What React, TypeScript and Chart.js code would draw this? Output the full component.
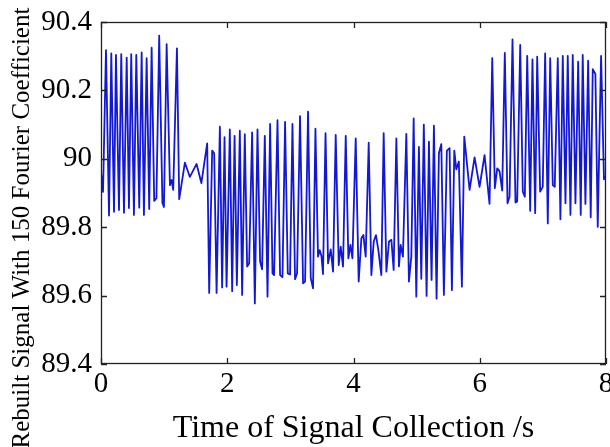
import React, { useEffect, useRef } from "react";
import { Chart, registerables } from "chart.js";

Chart.register(...registerables);

const timeS = [
  0, 0.032, 0.079, 0.127, 0.163, 0.206, 0.237, 0.285, 0.321, 0.364,
  0.407, 0.443, 0.479, 0.522, 0.559, 0.606, 0.644, 0.68, 0.723, 0.764,
  0.802, 0.843, 0.878, 0.922, 0.973, 0.997, 1.04, 1.092, 1.119, 1.144,
  1.203, 1.239, 1.329, 1.408, 1.514, 1.59, 1.682, 1.714, 1.761, 1.793,
  1.831, 1.883, 1.919, 1.957, 1.989, 2.041, 2.078, 2.116, 2.152, 2.199,
  2.236, 2.278, 2.315, 2.347, 2.394, 2.437, 2.479, 2.521, 2.552, 2.595,
  2.638, 2.679, 2.717, 2.742, 2.796, 2.837, 2.875, 2.916, 2.959, 2.995,
  3.033, 3.074, 3.106, 3.153, 3.201, 3.233, 3.28, 3.323, 3.359, 3.397,
  3.438, 3.465, 3.492, 3.517, 3.557, 3.597, 3.639, 3.676, 3.718, 3.766,
  3.797, 3.834, 3.877, 3.919, 3.951, 3.983, 4.035, 4.082, 4.125, 4.157,
  4.193, 4.241, 4.283, 4.32, 4.356, 4.394, 4.441, 4.478, 4.521, 4.562,
  4.6, 4.636, 4.679, 4.72, 4.747, 4.783, 4.837, 4.878, 4.916, 4.953,
  4.995, 5.036, 5.074, 5.114, 5.158, 5.195, 5.237, 5.274, 5.316, 5.353,
  5.391, 5.432, 5.479, 5.522, 5.559, 5.597, 5.628, 5.669, 5.717, 5.755,
  5.839, 5.918, 5.997, 6.076, 6.155, 6.198, 6.239, 6.277, 6.313, 6.356,
  6.397, 6.44, 6.472, 6.519, 6.566, 6.593, 6.641, 6.682, 6.714, 6.752,
  6.799, 6.835, 6.878, 6.91, 6.957, 6.998, 7.036, 7.078, 7.116, 7.157,
  7.188, 7.236, 7.278, 7.315, 7.358, 7.394, 7.437, 7.473, 7.516, 7.559,
  7.6, 7.631, 7.674, 7.717, 7.758, 7.79, 7.832, 7.869, 7.922, 7.968,
  8.0,
];

const rebuiltSignal = [
  89.961, 89.903, 90.318, 89.834, 90.308, 89.845, 90.304, 89.85, 90.306, 89.842,
  90.296, 89.856, 90.306, 89.836, 90.304, 89.857, 90.311, 89.836, 90.294, 89.853,
  90.325, 89.877, 89.885, 90.36, 89.871, 89.859, 90.335, 89.923, 89.938, 89.909,
  90.323, 89.882, 89.989, 89.947, 89.985, 89.929, 90.045, 89.608, 90.024, 90.016,
  89.608, 90.094, 89.624, 90.063, 89.626, 90.086, 89.613, 90.067, 89.631, 90.082,
  89.602, 90.072, 89.685, 89.694, 90.077, 89.577, 90.086, 89.699, 89.677, 90.067,
  89.597, 90.102, 89.665, 89.66, 90.113, 89.66, 89.654, 90.108, 89.665, 89.662,
  90.102, 89.648, 89.665, 90.125, 89.636, 89.641, 90.138, 89.651, 89.621, 90.088,
  89.714, 89.733, 89.716, 89.663, 90.075, 89.694, 89.735, 89.67, 90.07, 89.689,
  89.743, 89.685, 90.067, 89.709, 89.748, 89.709, 90.06, 89.641, 89.768, 89.777,
  89.714, 90.047, 89.66, 89.758, 89.777, 89.733, 89.66, 90.075, 89.67, 89.758,
  89.763, 89.675, 90.06, 89.685, 89.748, 89.714, 90.073, 89.641, 89.714, 90.118,
  89.597, 90.035, 89.649, 90.1, 89.599, 90.05, 89.646, 90.097, 89.591, 90.016,
  90.043, 89.602, 90.024, 90.031, 89.616, 90.024, 89.969, 89.992, 89.626, 90.065,
  89.909, 90.004, 89.918, 90.011, 89.868, 90.294, 89.914, 89.972, 89.964, 89.907,
  90.31, 89.87, 89.889, 90.349, 89.872, 89.875, 90.333, 89.904, 89.889, 90.301,
  89.848, 90.291, 89.841, 90.299, 89.904, 89.918, 90.308, 89.811, 90.294, 89.923,
  89.918, 90.294, 89.823, 90.301, 89.87, 90.301, 89.836, 90.304, 89.87, 90.284,
  89.836, 90.304, 89.868, 90.287, 89.829, 90.262, 90.248, 89.801, 90.301, 89.94,
  89.95,
];

const xTickValues = [0, 2, 4, 6, 8];
const xTickLabels = ["0", "2", "4", "6", "8"];
const yTickValues = [89.4, 89.6, 89.8, 90, 90.2, 90.4];
const yTickLabels = ["89.4", "89.6", "89.8", "90", "90.2", "90.4"];
const xTitle = "Time of Signal Collection /s";
const yTitle = "Rebuilt Signal With 150 Fourier Coefficient";

const FONT = '"Liberation Serif", "Times New Roman", serif';

const framePlugin = {
  id: "matlabFrame",
  afterDraw(chart: any) {
    const { ctx, chartArea } = chart;
    const { left, right, top, bottom } = chartArea;
    const xs = chart.scales.x;
    const ys = chart.scales.y;
    ctx.save();
    ctx.strokeStyle = "#222222";
    ctx.lineWidth = 1.3;
    ctx.strokeRect(left + 0.5, top + 0.5, right - left - 1, bottom - top - 1);
    const tl = 6;
    ctx.beginPath();
    xTickValues.forEach((v) => {
      const px = Math.round(xs.getPixelForValue(v)) + 0.5;
      ctx.moveTo(px, bottom);
      ctx.lineTo(px, bottom - tl);
      ctx.moveTo(px, top);
      ctx.lineTo(px, top + tl);
    });
    yTickValues.forEach((v) => {
      const py = Math.round(ys.getPixelForValue(v)) + 0.5;
      ctx.moveTo(left, py);
      ctx.lineTo(left + tl, py);
      ctx.moveTo(right, py);
      ctx.lineTo(right - tl, py);
    });
    ctx.stroke();
    // y-axis title
    ctx.fillStyle = "#000000";
    ctx.font = "25px " + FONT;
    ctx.textAlign = "center";
    ctx.textBaseline = "alphabetic";
    ctx.translate(29, 228);
    ctx.rotate(-Math.PI / 2);
    ctx.fillText(yTitle, 0, 0);
    ctx.restore();
  },
};

export default function App() {
  const canvasRef = useRef<HTMLCanvasElement | null>(null);

  useEffect(() => {
    if (!canvasRef.current) return;
    const points = timeS.map((t, i) => ({ x: t, y: rebuiltSignal[i] }));
    const chart = new Chart(canvasRef.current, {
      type: "line",
      data: {
        datasets: [
          {
            data: points,
            borderColor: "rgb(18, 24, 212)",
            borderWidth: 1.8,
            pointRadius: 0,
            tension: 0,
            fill: false,
            borderJoinStyle: "round",
          },
        ],
      },
      options: {
        animation: false,
        responsive: false,
        maintainAspectRatio: false,
        events: [],
        layout: { padding: { top: 22, right: 4, left: 0, bottom: 0 } },
        plugins: {
          legend: { display: false },
          tooltip: { enabled: false },
          title: { display: false },
        },
        scales: {
          x: {
            type: "linear",
            min: 0,
            max: 8,
            grid: { display: false, drawTicks: false },
            border: { display: false },
            afterBuildTicks(scale: any) {
              scale.ticks = xTickValues.map((v) => ({ value: v }));
            },
            afterFit(scale: any) {
              scale.height = 83;
              scale.paddingLeft = 0;
              scale.paddingRight = 0;
            },
            ticks: {
              autoSkip: false,
              maxRotation: 0,
              padding: 3,
              color: "#000000",
              font: { family: FONT, size: 29 },
              callback: (v: any) => {
                const i = xTickValues.indexOf(Number(v));
                return i >= 0 ? xTickLabels[i] : "";
              },
            },
            title: {
              display: true,
              text: xTitle,
              color: "#000000",
              font: { family: FONT, size: 32, lineHeight: 1 },
              padding: { top: 0, bottom: 2 },
            },
          },
          y: {
            type: "linear",
            min: 89.4,
            max: 90.4,
            grid: { display: false, drawTicks: false },
            border: { display: false },
            afterBuildTicks(scale: any) {
              scale.ticks = yTickValues.map((v) => ({ value: v }));
            },
            afterFit(scale: any) {
              scale.width = 101;
              scale.paddingTop = 0;
              scale.paddingBottom = 0;
            },
            ticks: {
              autoSkip: false,
              padding: 9,
              color: "#000000",
              font: { family: FONT, size: 29 },
              callback: (v: any) => {
                const i = yTickValues.findIndex((t) => Math.abs(t - Number(v)) < 1e-6);
                return i >= 0 ? yTickLabels[i] : "";
              },
            },
          },
        },
      },
      plugins: [framePlugin],
    });
    return () => chart.destroy();
  }, []);

  return (
    <div
      style={{
        position: "fixed",
        left: 0,
        top: 0,
        width: 610,
        height: 447,
        background: "#ffffff",
        overflow: "hidden",
      }}
    >
      <canvas ref={canvasRef} width={610} height={447} style={{ display: "block" }} />
    </div>
  );
}
